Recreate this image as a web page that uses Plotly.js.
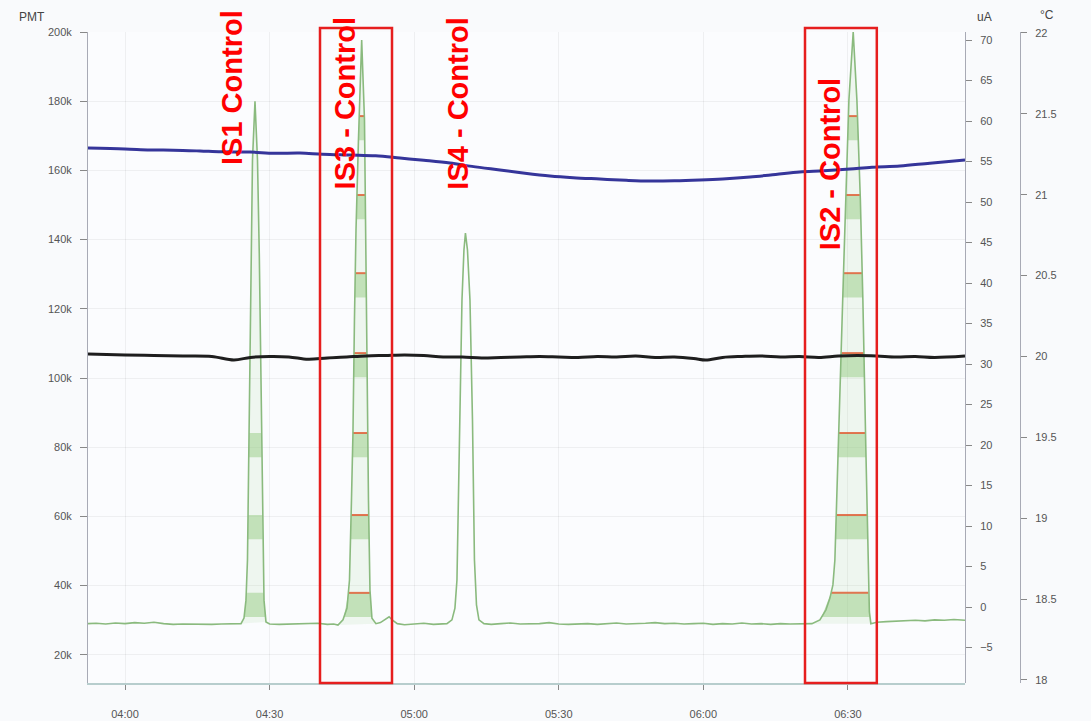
<!DOCTYPE html>
<html>
<head>
<meta charset="utf-8">
<script src="https://cdn.plot.ly/plotly-3.0.1.min.js"></script>
<style>
  html, body { margin: 0; padding: 0; background: #f9fafc; }
  #chart { width: 1091px; height: 721px; }
</style>
</head>
<body>
<div id="chart"></div>
<script>
// ---------------- DATA (minutes after 04:00) ----------------
// PMT baseline samples (k counts) outside peaks
const baseMin = [-7.68, -6, -4, -2, 0, 2, 4, 6, 8, 10, 12, 14, 16, 18, 20, 22, 23.2,
  30, 32, 34, 36, 38, 40, 42, 43.3,
  53, 54.8, 55.5, 56.5, 58, 60, 62, 64, 65.8,
  76, 78, 80, 82, 84, 86, 88, 90, 92, 94, 96, 98, 100, 102, 104, 106, 108, 110, 112, 114,
  116, 118, 120, 122, 124, 126, 128, 130, 132, 134, 136, 138, 140, 141.5,
  156, 158, 160, 162, 164, 166, 168, 170, 172, 174.3];
const baseVal = [29.0, 29.1, 28.9, 29.2, 29.0, 29.3, 29.1, 29.4, 29.0, 28.8, 28.9, 28.8, 28.9, 28.8, 28.9, 28.9, 28.9,
  28.9, 28.8, 28.9, 29.0, 28.9, 29.1, 28.8, 28.9,
  29.3, 31.0, 30.0, 29.0, 28.7, 28.9, 29.1, 28.8, 28.9,
  28.8, 29.0, 29.2, 28.9, 28.9, 29.0, 29.3, 28.9, 28.8, 28.9, 29.0, 28.8, 29.0, 29.2, 28.9, 28.9, 29.1, 29.3, 29.0, 29.1,
  28.9, 29.0, 29.1, 28.8, 29.0, 28.9, 29.2, 28.9, 29.0, 28.8, 29.0, 28.9, 29.0, 28.9,
  29.4, 29.6, 29.8, 29.9, 30.0, 29.8, 30.1, 30.0, 30.2, 30.0];

// Peaks (k counts)
const is1Min = [24.07, 24.69, 25.10, 25.41, 25.73, 26.04, 26.45, 26.97, 27.49, 27.86, 28.22, 28.53, 28.84, 29.25];
const is1Val = [29.0, 30.6, 35.8, 47.4, 79.2, 122.5, 163.0, 180.0, 163.0, 136.0, 93.6, 56.0, 35.8, 29.5];

const is3Min = [44.19, 45.23, 46.06, 46.58, 46.99, 47.30, 47.61, 47.93, 48.44, 49.11, 49.69, 50.00, 50.21, 50.52, 50.83, 51.24, 52.07];
const is3Val = [28.6, 30.1, 33.5, 41.6, 64.7, 84.1, 116.8, 142.8, 168.8, 197.7, 174.6, 137.0, 93.6, 64.7, 38.7, 30.6, 29.0];

const is4Min = [66.80, 67.84, 68.46, 68.88, 69.19, 69.50, 69.92, 70.33, 70.64, 71.06, 71.58, 72.10, 72.51, 72.93, 73.44, 74.48];
const is4Val = [29.0, 30.1, 33.5, 41.6, 64.7, 93.6, 122.5, 137.0, 141.9, 137.0, 122.5, 87.9, 47.4, 34.4, 30.1, 29.0];

const is2Min = [142.53, 144.19, 145.44, 146.27, 146.89, 147.30, 147.93, 148.55, 149.17, 149.69, 150.21, 151.10, 151.87, 152.59, 153.11, 153.73, 154.25, 154.46, 154.77];
const is2Val = [29.0, 30.1, 33.0, 36.4, 40.2, 47.4, 79.2, 108.1, 134.1, 157.2, 180.3, 200.0, 180.3, 151.4, 122.5, 79.2, 38.7, 32.4, 29.0];

// Shaded band tops (k counts) on the peaks
const bandTops = [37.9, 60.4, 84.1, 107.2, 130.3, 152.9, 175.7];
const bandTopsIS1 = [37.9, 60.4, 84.1];

// Current (uA)
const uaMin = [-7.68, 0, 5.19, 10, 15.56, 20, 25.93, 31, 36.31, 41, 46.68, 52, 57.05, 62, 67.43, 72, 77.80, 83, 88.17, 93, 98.55, 104, 108.9, 114, 119.3, 124, 129.7, 135, 140.0, 145, 150.4, 155, 160.8, 167, 174.3];
const uaVal = [56.67, 56.55, 56.42, 56.40, 56.30, 56.20, 56.17, 56.02, 56.05, 55.90, 55.80, 55.70, 55.43, 55.15, 54.81, 54.40, 53.95, 53.55, 53.21, 53.00, 52.84, 52.68, 52.59, 52.62, 52.72, 52.85, 53.09, 53.40, 53.70, 53.85, 54.07, 54.30, 54.44, 54.80, 55.19];

// Temperature (°C)
const tcMin = [-7.68, 0, 6, 12, 18, 22.6, 26, 30, 34, 38, 42, 46, 50, 54, 58, 62, 66, 70, 74, 78, 82, 86, 90, 94, 98, 102, 106, 110, 114, 118, 120.5, 124, 128, 132, 136, 140, 144, 148, 152, 156, 160, 164, 168, 174.3];
const tcVal = [20.015, 20.009, 20.006, 20.003, 20.000, 19.978, 19.994, 20.000, 19.997, 19.982, 19.991, 19.997, 20.003, 20.006, 20.009, 20.006, 19.997, 19.997, 19.991, 19.994, 19.997, 20.000, 19.997, 19.994, 20.000, 19.997, 20.003, 19.994, 19.997, 19.988, 19.978, 19.994, 20.000, 20.003, 19.997, 20.000, 19.994, 20.003, 20.006, 20.003, 19.997, 20.000, 19.994, 20.003];

// Axis ticks
const pmtTicks = [20, 40, 60, 80, 100, 120, 140, 160, 180, 200];
const pmtLabels = ['20k', '40k', '60k', '80k', '100k', '120k', '140k', '160k', '180k', '200k'];
const uaTicks = [-5, 0, 5, 10, 15, 20, 25, 30, 35, 40, 45, 50, 55, 60, 65, 70];
const tcTicks = [18, 18.5, 19, 19.5, 20, 20.5, 21, 21.5, 22];
const timeTicks = [0, 30, 60, 90, 120, 150];
const timeLabels = ['04:00', '04:30', '05:00', '05:30', '06:00', '06:30'];

// Red windows (minutes) and labels
const windows = [[40.46, 55.4], [141.1, 156.0]];
const labelText = ['IS1 Control', 'IS3 - Control', 'IS4 - Control', 'IS2 - Control'];
const labelMin = [22.2, 45.6, 69.1, 146.3];

// ---------------- HELPERS ----------------
const T0 = Date.UTC(2024, 0, 1, 4, 0, 0);
function toDate(m) {
  if (m === null) return null;
  return new Date(T0 + m * 60000).toISOString().replace('T', ' ').replace('Z', '');
}

let pts = [];
for (let i = 0; i < baseMin.length; i++) pts.push([baseMin[i], baseVal[i]]);
[[is1Min, is1Val], [is3Min, is3Val], [is4Min, is4Val], [is2Min, is2Val]].forEach(p => {
  for (let i = 0; i < p[0].length; i++) pts.push([p[0][i], p[1][i]]);
});
pts.sort((a, b) => a[0] - b[0]);
const pmtX = pts.map(p => toDate(p[0]));
const pmtY = pts.map(p => p[1]);

function edgeAt(mins, vals, L) {
  let apex = 0;
  for (let i = 1; i < vals.length; i++) if (vals[i] > vals[apex]) apex = i;
  let xl = null, xr = null;
  for (let i = 0; i < apex; i++) {
    if (vals[i] <= L && vals[i + 1] >= L) {
      xl = mins[i] + (L - vals[i]) / (vals[i + 1] - vals[i]) * (mins[i + 1] - mins[i]);
      break;
    }
  }
  for (let i = apex; i < vals.length - 1; i++) {
    if (vals[i] >= L && vals[i + 1] <= L) {
      xr = mins[i] + (vals[i] - L) / (vals[i] - vals[i + 1]) * (mins[i + 1] - mins[i]);
      break;
    }
  }
  return [xl, xr];
}

const bandDepth = 7;
let bandX = [], bandY = [], redX = [], redY = [];
function addBands(mins, vals, tops, withRed) {
  tops.forEach(t => {
    const a = t - bandDepth;
    const [la, ra] = edgeAt(mins, vals, a);
    const [lb, rb] = edgeAt(mins, vals, t);
    if (la === null || lb === null) return;
    bandX.push(toDate(la), toDate(lb), toDate(rb), toDate(ra), toDate(la), null);
    bandY.push(a, t, t, a, a, null);
    if (withRed) {
      redX.push(toDate(lb), toDate(rb), null);
      redY.push(t, t, null);
    }
  });
}
addBands(is3Min, is3Val, bandTops, true);
addBands(is2Min, is2Val, bandTops, true);
addBands(is1Min, is1Val, bandTopsIS1, false);

let fillX = [], fillY = [];
[[is1Min, is1Val], [is3Min, is3Val], [is2Min, is2Val]].forEach(p => {
  for (let i = 0; i < p[0].length; i++) { fillX.push(toDate(p[0][i])); fillY.push(p[1][i]); }
  fillX.push(null); fillY.push(null);
});

const green = 'rgb(138,186,126)';
const traces = [
  { x: fillX, y: fillY, type: 'scatter', mode: 'lines', fill: 'toself',
    fillcolor: 'rgba(150,205,130,0.12)', line: { width: 0 }, hoverinfo: 'skip', yaxis: 'y' },
  { x: bandX, y: bandY, type: 'scatter', mode: 'lines', fill: 'toself',
    fillcolor: 'rgba(140,200,120,0.45)', line: { width: 0 }, hoverinfo: 'skip', yaxis: 'y' },
  { x: redX, y: redY, type: 'scatter', mode: 'lines',
    line: { color: 'rgba(225,95,55,0.85)', width: 2 }, hoverinfo: 'skip', yaxis: 'y' },
  { x: pmtX, y: pmtY, type: 'scatter', mode: 'lines', name: 'PMT',
    line: { color: green, width: 1.6 }, yaxis: 'y' },
  { x: uaMin.map(toDate), y: uaVal, type: 'scatter', mode: 'lines', name: 'uA',
    line: { color: '#35359a', width: 3, shape: 'spline' }, yaxis: 'y2' },
  { x: tcMin.map(toDate), y: tcVal, type: 'scatter', mode: 'lines', name: '°C',
    line: { color: '#1e1e1e', width: 3, shape: 'spline' }, yaxis: 'y3' }
];

const tickFont = { family: 'Liberation Sans, Arial, sans-serif', size: 11, color: '#555' };
const shapes = [];
windows.forEach(w => {
  shapes.push({ type: 'rect', xref: 'x', yref: 'paper', x0: toDate(w[0]), x1: toDate(w[1]),
    y0: 0, y1: 1.006, line: { color: 'rgb(230,30,30)', width: 2.5 }, fillcolor: 'rgba(0,0,0,0)' });
});

const labelY = [0.914, 0.890, 0.890, 0.797];
const annotations = labelText.map((t, i) => ({
  text: '<b>' + t + '</b>', x: toDate(labelMin[i]), xref: 'x', y: labelY[i], yref: 'paper',
  textangle: -90, showarrow: false, xanchor: 'center', yanchor: 'middle',
  font: { family: 'Liberation Sans, Arial, sans-serif', size: 29, color: '#ff0000' }
}));
annotations.push(
  { text: 'PMT', xref: 'paper', yref: 'paper', x: -0.060, y: 1.023, showarrow: false,
    xanchor: 'center', yanchor: 'middle', font: { family: 'Liberation Sans, Arial', size: 12, color: '#444' } },
  { text: 'uA', xref: 'paper', yref: 'paper', x: 0.9624, y: 1.023, showarrow: false,
    xanchor: 'center', yanchor: 'middle', font: { family: 'Liberation Sans, Arial', size: 12, color: '#444' } },
  { text: '°C', xref: 'paper', yref: 'paper', x: 1.029, y: 1.026, showarrow: false,
    xanchor: 'center', yanchor: 'middle', font: { family: 'Liberation Sans, Arial', size: 12, color: '#444' } }
);

const layout = {
  width: 1091, height: 721,
  margin: { l: 88, r: 71, t: 32, b: 38 },
  paper_bgcolor: '#f9fafc', plot_bgcolor: '#fbfcfe',
  showlegend: false,
  xaxis: {
    type: 'date', domain: [0, 0.94099], range: [toDate(-7.68), toDate(174.3)],
    tickvals: timeTicks.map(toDate), ticktext: timeLabels,
    showgrid: true, gridcolor: 'rgba(0,0,0,0.05)', zeroline: false,
    showline: true, linecolor: '#b7cdcd', linewidth: 1.5,
    ticks: 'outside', ticklen: 5, tickcolor: '#888', tickfont: tickFont, ticklabelstandoff: 15
  },
  yaxis: {
    range: [11.85, 200], tickvals: pmtTicks, ticktext: pmtLabels,
    showgrid: true, gridcolor: 'rgba(0,0,0,0.05)', zeroline: false,
    showline: true, linecolor: '#a8aab5', linewidth: 1,
    ticks: 'outside', ticklen: 7, tickcolor: '#888', tickfont: tickFont, ticklabelstandoff: 6
  },
  yaxis2: {
    overlaying: 'y', side: 'right', anchor: 'free', position: 0.94099,
    range: [-9.38, 70.99], tickvals: uaTicks, showgrid: false, zeroline: false,
    showline: true, linecolor: '#a8aab5', linewidth: 1,
    ticks: 'outside', ticklen: 6, tickcolor: '#888', tickfont: tickFont, ticklabelstandoff: 6
  },
  yaxis3: {
    overlaying: 'y', side: 'right', anchor: 'free', position: 1.0,
    range: [17.981, 22.006], tickvals: tcTicks, showgrid: false, zeroline: false,
    showline: true, linecolor: '#a8aab5', linewidth: 1,
    ticks: 'outside', ticklen: 6, tickcolor: '#888', tickfont: tickFont, ticklabelstandoff: 6
  },
  shapes: shapes,
  annotations: annotations
};

Plotly.newPlot('chart', traces, layout, { displayModeBar: false, staticPlot: true });
</script>
</body>
</html>
